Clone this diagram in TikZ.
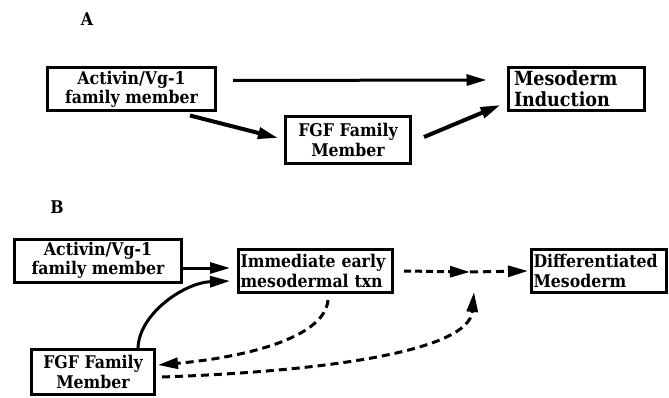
\documentclass[tikz,border=0pt]{standalone}
\usepackage{fontspec}
\setmainfont{DejaVu Serif Condensed}
\usetikzlibrary{arrows.meta}
\tikzstyle{genebox} = [draw=black, line width=3pt, rectangle, inner xsep=4pt,
    inner ysep=0pt, minimum height=43pt, font=\fontsize{17.5}{19.5}\selectfont\bfseries]
\tikzstyle{paneltitle} = [font=\fontsize{17.5}{20}\selectfont\bfseries]
\tikzstyle{signal} = [-{Triangle[length=20pt,width=11pt]}, line width=3pt]
\tikzstyle{weaksignal} = [signal, dash pattern=on 8pt off 5pt]

\begin{document}
\begin{tikzpicture}[x=1pt,y=1pt]
                \useasboundingbox (0,0) rectangle (669,397);
                \node[paneltitle] (labA) at (87,378) {A};
                \node[paneltitle] (labB) at (57,190) {B};
                % panel A
                \node[genebox, align=center, minimum width=168pt] (actA) at (131.5,307.5) {Activin/Vg-1\\family member};
                \node[genebox, align=left, inner xsep=6pt, text width=124pt, font=\fontsize{19.5}{21}\selectfont\bfseries] (mesoA) at (576,308) {Mesoderm\\Induction};
                \node[genebox, align=center, minimum width=125pt, minimum height=47pt] (fgfA) at (348,257) {FGF Family\\Member};
                \draw[signal] ([xshift=16pt,yshift=9pt]actA.east) -- ([xshift=-20pt,yshift=9pt]mesoA.west);
                \draw[signal, line width=4pt] ([xshift=-27pt,yshift=-3pt]actA.south east) -- ([xshift=-6pt,yshift=2pt]fgfA.west);
                \draw[signal, line width=4pt] ([xshift=12pt,yshift=3pt]fgfA.east) -- ([xshift=-6pt,yshift=7pt]mesoA.south west);
                % panel B
                \node[genebox, align=center, minimum width=167pt] (actB) at (98,136.5) {Activin/Vg-1\\family member};
                \node[genebox, align=left, inner xsep=2pt, text width=150pt] (immB) at (315.5,126) {Immediate early\\mesodermal txn};
                \node[genebox, align=left, inner xsep=2pt, text width=131pt] (difB) at (599,126) {Differentiated\\Mesoderm};
                \node[genebox, align=center, minimum width=123pt, minimum height=45pt] (fgfB) at (93,25) {FGF Family\\Member};
                \coordinate (join) at (470,125);
                \draw[signal] ([yshift=-7.5pt]actB.east) -- ([xshift=-7pt,yshift=3pt]immB.west);
                \draw[signal] ([xshift=-18pt]fgfB.north east) to[out=88,in=182,out distance=35pt,in distance=45pt] ([xshift=-7pt,yshift=-10pt]immB.west);
                \draw[weaksignal, dash pattern=on 7pt off 4pt] ([xshift=10pt]immB.east) -- (join);
                \draw[weaksignal] (join) -- ([xshift=-2pt]difB.west);
                \draw[weaksignal] ([xshift=12.5pt,yshift=-6pt]immB.south) to[out=265,in=5,out distance=40pt,in distance=80pt] ([xshift=2pt,yshift=7pt]fgfB.east);
                \draw[weaksignal] ([xshift=6pt,yshift=-5pt]fgfB.east) to[out=2,in=265,out distance=160pt,in distance=60pt] ([xshift=4pt,yshift=-20pt]join);
            \end{tikzpicture}
\end{document}
